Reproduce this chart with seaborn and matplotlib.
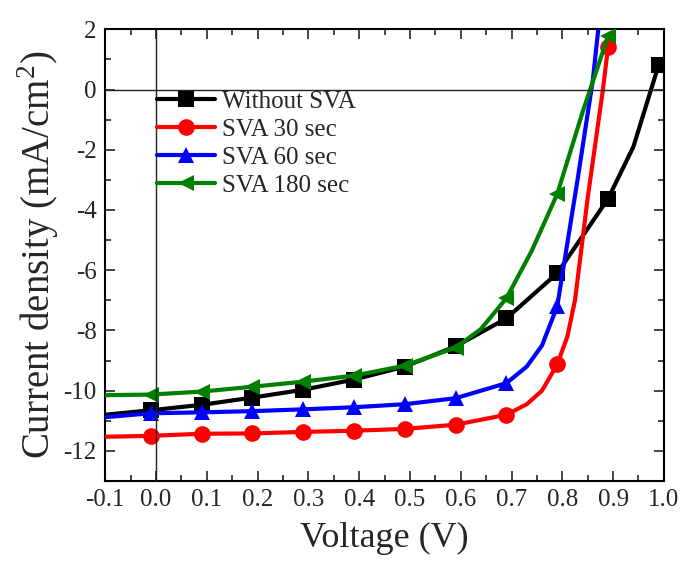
import matplotlib
matplotlib.use("Agg")
import matplotlib.pyplot as plt
from matplotlib.lines import Line2D
from matplotlib.ticker import MultipleLocator, FormatStrFormatter
import seaborn as sns
import pandas as pd

# ---- data ----
marker_voltages = [-0.01, 0.09, 0.19, 0.29, 0.39, 0.49, 0.59, 0.69, 0.79, 0.89, 0.99]

v_without = [-0.1, -0.01, 0.09, 0.19, 0.29, 0.39, 0.49, 0.59, 0.69, 0.79, 0.89, 0.94, 0.99]
j_without = [-10.8, -10.65, -10.47, -10.23, -9.97, -9.63, -9.2, -8.53, -7.6, -6.1, -3.63, -1.9, 0.83]

v_30 = [-0.1, -0.01, 0.09, 0.19, 0.29, 0.39, 0.49, 0.59, 0.69, 0.73, 0.76, 0.79, 0.81, 0.825, 0.85, 0.88, 0.89]
j_30 = [-11.53, -11.5, -11.43, -11.42, -11.37, -11.33, -11.27, -11.13, -10.8, -10.45, -10.0, -9.13, -8.2, -7.0, -3.6, 0.0, 1.4]

v_60 = [-0.1, -0.01, 0.09, 0.19, 0.29, 0.39, 0.49, 0.59, 0.69, 0.73, 0.76, 0.79, 0.83, 0.86, 0.89]
j_60 = [-10.88, -10.75, -10.72, -10.68, -10.62, -10.55, -10.45, -10.25, -9.75, -9.2, -8.5, -7.2, -3.0, 0.3, 5.0]

v_180 = [-0.1, -0.01, 0.09, 0.19, 0.29, 0.39, 0.49, 0.59, 0.64, 0.69, 0.74, 0.79, 0.84, 0.89]
j_180 = [-10.15, -10.13, -10.03, -9.87, -9.7, -9.5, -9.17, -8.57, -7.95, -6.93, -5.35, -3.47, -0.75, 1.77]

labels = ["Without SVA", "SVA 30 sec", "SVA 60 sec", "SVA 180 sec"]
colors = ["black", "red", "blue", "green"]
markers = ["s", "o", "^", "<"]

x_ticks = [-0.1, 0.0, 0.1, 0.2, 0.3, 0.4, 0.5, 0.6, 0.7, 0.8, 0.9, 1.0]
y_ticks = [2, 0, -2, -4, -6, -8, -10, -12]

series = [(v_without, j_without), (v_30, j_30), (v_60, j_60), (v_180, j_180)]

# ---- plot ----
sns.set_theme(style="ticks")
plt.rcParams["font.family"] = ["Liberation Serif", "DejaVu Serif"]
plt.rcParams["mathtext.fontset"] = "custom"
plt.rcParams["mathtext.rm"] = "Liberation Serif"
plt.rcParams["axes.unicode_minus"] = False

fig = plt.figure(figsize=(6.83, 5.74), dpi=100)
ax = fig.add_axes([0.154, 0.162, 0.818, 0.787])

ax.axhline(0, color="#222222", lw=1.0, zorder=5)
ax.axvline(0, color="#222222", lw=1.0, zorder=5)

LW = 3.0
MS = 12
handles = []
for (vx, jy), lab, col, mk in zip(series, labels, colors, markers):
    df = pd.DataFrame({"V": vx, "J": jy})
    idx = [i for i, v in enumerate(vx) if any(abs(v - m) < 1e-9 for m in marker_voltages)]
    sns.lineplot(data=df, x="V", y="J", ax=ax, color=col, lw=LW, sort=False,
                 marker=mk, markersize=MS, markeredgewidth=0, markevery=idx,
                 zorder=3, legend=False)
    handles.append(Line2D([0], [0], color=col, lw=LW, marker=mk, markersize=MS,
                          markeredgewidth=0))

ax.set_xlim(-0.1, 1.0)
ax.set_ylim(-13, 2)
ax.set_xticks(x_ticks)
ax.set_yticks(y_ticks)
ax.xaxis.set_major_formatter(FormatStrFormatter("%.1f"))
ax.xaxis.set_minor_locator(MultipleLocator(0.05))
ax.yaxis.set_minor_locator(MultipleLocator(1))
ax.tick_params(which="both", direction="in", top=True, right=True, width=1.2,
               labelsize=18, pad=6)
ax.tick_params(which="major", length=7)
ax.tick_params(which="minor", length=4)
for s in ax.spines.values():
    s.set_linewidth(1.5)
    s.set_color("black")

ax.set_xlabel("Voltage (V)", fontsize=26, labelpad=8)
ax.set_ylabel("Current density (mA/cm$^2$)", fontsize=28, labelpad=2)

ax.legend(handles, labels, loc="upper left", bbox_to_anchor=(0.093, 0.865),
          frameon=False, fontsize=18, handlelength=2.3, handletextpad=0.3,
          labelspacing=0.22, borderpad=0, borderaxespad=0)

fig.savefig("out.png", dpi=100)
